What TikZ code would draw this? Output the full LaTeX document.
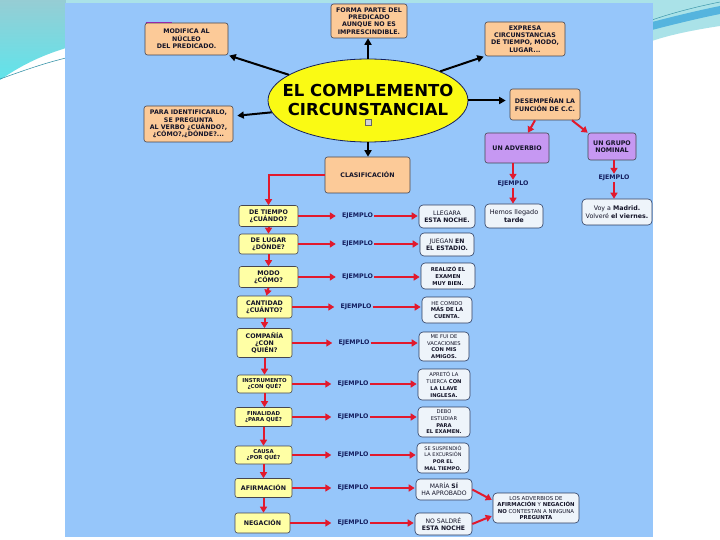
\documentclass[tikz,border=0pt]{standalone}
\usepackage{fontspec}
\setmainfont{DejaVu Sans}
\usetikzlibrary{shapes.geometric,arrows.meta}
\definecolor{panel}{RGB}{150,198,250}
\definecolor{peach}{RGB}{252,202,152}
\definecolor{ylw}{RGB}{255,255,165}
\definecolor{vio}{RGB}{198,152,242}
\definecolor{exfill}{RGB}{238,244,250}
\definecolor{exline}{RGB}{45,60,95}
\definecolor{boxline}{RGB}{70,70,80}
\definecolor{txt}{RGB}{20,20,40}
\definecolor{navy}{RGB}{20,30,95}
\definecolor{arred}{RGB}{225,25,45}
\definecolor{elly}{RGB}{250,250,20}
\definecolor{tealA}{RGB}{150,205,212}
\definecolor{tealB}{RGB}{95,228,235}
\definecolor{tealC}{RGB}{170,226,232}
\definecolor{tealD}{RGB}{85,180,222}
\definecolor{tealE}{RGB}{60,150,170}
\definecolor{purpline}{RGB}{150,40,170}
\tikzset{
  base/.style={draw=boxline, line width=0.6pt, rounded corners=2.5pt, align=center, inner sep=0pt, text=txt},
  pbox/.style={base, fill=peach, font=\fontsize{6.3}{7.3}\selectfont\bfseries},
  ybox/.style={base, fill=ylw, font=\fontsize{6.3}{7.3}\selectfont\bfseries},
  ysmall/.style={base, fill=ylw, font=\fontsize{5.4}{6.4}\selectfont\bfseries},
  vbox/.style={base, fill=vio, font=\fontsize{6.3}{7.3}\selectfont\bfseries},
  xbox/.style={base, fill=exfill, draw=exline, rounded corners=4pt, font=\fontsize{6.1}{7.2}\selectfont},
  xsmall/.style={base, fill=exfill, draw=exline, rounded corners=4pt, font=\fontsize{5.3}{6.6}\selectfont},
  ej/.style={font=\fontsize{6.3}{7}\selectfont\bfseries, text=navy, inner sep=1pt},
  barr/.style={line width=2pt, draw=black, -{Triangle[length=6.5pt,width=7pt]}},
  rarr/.style={line width=2pt, draw=arred, -{Triangle[length=6pt,width=7pt]}},
}
\begin{document}
\begin{tikzpicture}[x=1pt,y=-1pt]
\useasboundingbox (0,0) rectangle (720,540);
\fill[white] (0,0) rectangle (720,540);
% decorations outside the panel
\fill[tealC] (0,0) rectangle (720,4);
\shade[top color=tealA, bottom color=tealB] (0,0) -- (66,0) -- (66,48) .. controls (40,56) and (20,66) .. (0,80) -- cycle;
\draw[tealE, line width=0.6pt] (0,79) .. controls (25,70) and (45,63) .. (66,58);
\fill[tealC] (652,0) -- (720,0) -- (720,26) .. controls (700,29) and (672,34) .. (652,41) -- cycle;
\fill[tealD] (652,22) .. controls (675,16) and (700,10) .. (720,6) -- (720,14) .. controls (700,18) and (675,24) .. (652,30) -- cycle;
\draw[tealE, line width=0.5pt] (652,20) .. controls (675,12) and (700,6) .. (720,2);
% panel
\fill[panel] (65,3) rectangle (653,537);

% central ellipse
\node[ellipse, draw=navy, fill=elly, line width=0.8pt, minimum width=200, minimum height=83, inner sep=0pt] (ell) at (368,100.5) {};
\node[font=\fontsize{16.5}{18.5}\selectfont\bfseries, align=center, text=black, inner sep=0pt] (ellt) at (368,100) {EL COMPLEMENTO\\CIRCUNSTANCIAL};
\node[draw=gray!80!black, fill=gray!35, minimum size=6, inner sep=0pt, line width=0.4pt] (ic) at (368,122) {};

% peach boxes
\node[pbox, minimum width=83, minimum height=32] (mod) at (186.5,39) {MODIFICA AL\\NÚCLEO\\DEL PREDICADO.};
\draw[purpline, line width=1.2pt] ([xshift=1pt]mod.north west) -- ++(26,0);
\node[pbox, minimum width=76, minimum height=34] (forma) at (369,21) {FORMA PARTE DEL\\PREDICADO\\AUNQUE NO ES\\IMPRESCINDIBLE.};
\node[pbox, minimum width=80, minimum height=34] (expr) at (525,39) {EXPRESA\\CIRCUNSTANCIAS\\DE TIEMPO, MODO,\\LUGAR...};
\node[pbox, minimum width=89, minimum height=36] (para) at (188.5,124) {PARA IDENTIFICARLO,\\SE PREGUNTA\\AL VERBO ¿CUÁNDO?,\\¿CÓMO?,¿DÓNDE?...};
\node[pbox, minimum width=70, minimum height=31] (des) at (545,104.5) {DESEMPEÑAN LA\\FUNCIÓN DE C.C.};
\node[pbox, minimum width=85, minimum height=36] (clas) at (367.5,175) {CLASIFICACIÓN};

% violet boxes
\node[vbox, minimum width=64, minimum height=30] (adv) at (517,148) {UN ADVERBIO};
\node[vbox, minimum width=48, minimum height=27] (grp) at (612,146.5) {UN GRUPO\\NOMINAL};
\node[ej] (ejA) at (513,184) {EJEMPLO};
\node[ej] (ejG) at (614,178) {EJEMPLO};
\node[xbox, font=\fontsize{6.5}{7.5}\selectfont, minimum width=58, minimum height=24] (hemos) at (514,216) {Hemos llegado\\\textbf{tarde}};
\node[xbox, font=\fontsize{6.3}{7.5}\selectfont, minimum width=70, minimum height=26] (voy) at (617,212) {Voy a \textbf{Madrid.}\\Volveré \textbf{el viernes.}};

% black arrows from the ellipse
\draw[barr, shorten >=1pt] (ell.162) -- (mod.south east);
\draw[barr] (ell.north) -- (ell.north |- forma.south);
\draw[barr, shorten >=1pt] (ell.22) -- (expr.south west);
\draw[barr, shorten >=4pt] (ell.187) -- (para.10);
\draw[barr, shorten >=4pt] (ell.east) -- (ell.east -| des.west);
\draw[barr] (ell.south) -- (ell.south |- clas.north);

% red arrows right branch
\draw[rarr] ([xshift=-10pt]des.south) -- ([xshift=11pt]adv.north);
\draw[rarr] ([xshift=27pt]des.south) -- (grp.north west);
\draw[rarr] (ejA.north |- adv.south) -- (ejA.north);
\draw[rarr] (ejA.south) -- (ejA.south |- hemos.north);
\draw[rarr] (ejG.north |- grp.south) -- (ejG.north);
\draw[rarr] (ejG.south) -- (ejG.south |- voy.north);

% classification column
\node[ybox, minimum width=59, minimum height=21] (t1) at (268.5,216) {DE TIEMPO\\¿CUÁNDO?};
\node[ybox, minimum width=59, minimum height=20] (t2) at (268.5,244) {DE LUGAR\\¿DÓNDE?};
\node[ybox, minimum width=59, minimum height=21] (t3) at (268.5,277) {MODO\\¿CÓMO?};
\node[ybox, minimum width=55, minimum height=22] (t4) at (264.5,307) {CANTIDAD\\¿CUÁNTO?};
\node[ybox, minimum width=55, minimum height=29] (t5) at (264.5,343) {COMPAÑÍA\\¿CON\\QUIÉN?};
\node[ysmall, minimum width=55, minimum height=18] (t6) at (264.5,384) {INSTRUMENTO\\¿CON QUÉ?};
\node[ysmall, minimum width=57, minimum height=19] (t7) at (263.5,417) {FINALIDAD\\¿PARA QUÉ?};
\node[ysmall, minimum width=57, minimum height=18] (t8) at (263.5,455) {CAUSA\\¿POR QUÉ?};
\node[ybox, minimum width=57, minimum height=19] (t9) at (263.5,488) {AFIRMACIÓN};
\node[ybox, minimum width=55, minimum height=20] (t10) at (262.5,523) {NEGACIÓN};

\node[ej] (e1) at (357.5,216) {EJEMPLO};
\node[ej] (e2) at (357.5,244) {EJEMPLO};
\node[ej] (e3) at (357.5,277) {EJEMPLO};
\node[ej] (e4) at (356,307) {EJEMPLO};
\node[ej] (e5) at (354,343) {EJEMPLO};
\node[ej] (e6) at (353,384) {EJEMPLO};
\node[ej] (e7) at (353,417) {EJEMPLO};
\node[ej] (e8) at (353,455) {EJEMPLO};
\node[ej] (e9) at (353,488) {EJEMPLO};
\node[ej] (e10) at (353,523) {EJEMPLO};

\node[xbox, minimum width=56, minimum height=23] (x1) at (447,216.5) {LLEGARA\\\textbf{ESTA NOCHE.}};
\node[xbox, minimum width=54, minimum height=23] (x2) at (447,244.5) {JUEGAN \textbf{EN}\\\textbf{EL ESTADIO.}};
\node[xsmall, minimum width=54, minimum height=26] (x3) at (448,276) {\textbf{REALIZÓ EL}\\\textbf{EXAMEN}\\\textbf{MUY BIEN.}};
\node[xsmall, minimum width=50, minimum height=26] (x4) at (447,310) {HE COMIDO\\\textbf{MÁS DE LA}\\\textbf{CUENTA.}};
\node[xsmall, font=\fontsize{5.2}{6.5}\selectfont, minimum width=50, minimum height=29] (x5) at (444,346.5) {ME FUI DE\\VACACIONES\\\textbf{CON MIS}\\\textbf{AMIGOS.}};
\node[xsmall, font=\fontsize{5.2}{6.8}\selectfont, minimum width=52, minimum height=31] (x6) at (444,384.5) {APRETÓ LA\\TUERCA \textbf{CON}\\\textbf{LA LLAVE}\\\textbf{INGLESA.}};
\node[xsmall, font=\fontsize{5.2}{6.7}\selectfont, minimum width=52, minimum height=30] (x7) at (444,422) {DEBO\\ESTUDIAR\\\textbf{PARA}\\\textbf{EL EXAMEN.}};
\node[xsmall, font=\fontsize{5}{6.7}\selectfont, minimum width=52, minimum height=30] (x8) at (443,458) {SE SUSPENDIÓ\\LA EXCURSIÓN\\\textbf{POR EL}\\\textbf{MAL TIEMPO.}};
\node[xbox, minimum width=56, minimum height=21] (x9) at (444,489.5) {MARÍA \textbf{SÍ}\\HA APROBADO};
\node[xbox, minimum width=57, minimum height=22] (x10) at (443.5,524) {NO SALDRÉ\\\textbf{ESTA NOCHE}};
\node[xsmall, font=\fontsize{5.4}{6.6}\selectfont, minimum width=86, minimum height=30] (fin) at (536,508) {LOS ADVERBIOS DE\\\textbf{AFIRMACIÓN} Y \textbf{NEGACIÓN}\\\textbf{NO} CONTESTAN A NINGUNA\\\textbf{PREGUNTA}};

\draw[rarr] (clas.west) -| (t1.north);
\draw[rarr] (t1.south) -- (t1.south |- t2.north);
\draw[rarr] (t2.south) -- (t2.south |- t3.north);
\draw[rarr] (t3.south) -- ([xshift=-2pt]t3.south |- t4.north);
\draw[rarr] (t4.south) -- (t4.south |- t5.north);
\draw[rarr] (t5.south) -- (t5.south |- t6.north);
\draw[rarr] (t6.south) -- (t6.south |- t7.north);
\draw[rarr] (t7.south) -- (t7.south |- t8.north);
\draw[rarr] (t8.south) -- (t8.south |- t9.north);
\draw[rarr] (t9.south) -- (t9.south |- t10.north);

\foreach \i in {1,...,10}{
  \draw[rarr, shorten >=5pt] (t\i.east) -- (e\i.west);
  \draw[rarr, shorten >=1pt] (e\i.east) -- (e\i.east -| x\i.west);
}
\draw[rarr, shorten >=1pt] (x9.east) -- (fin.170);
\draw[rarr, shorten >=1pt] (x10.east) -- (fin.190);
\end{tikzpicture}
\end{document}
